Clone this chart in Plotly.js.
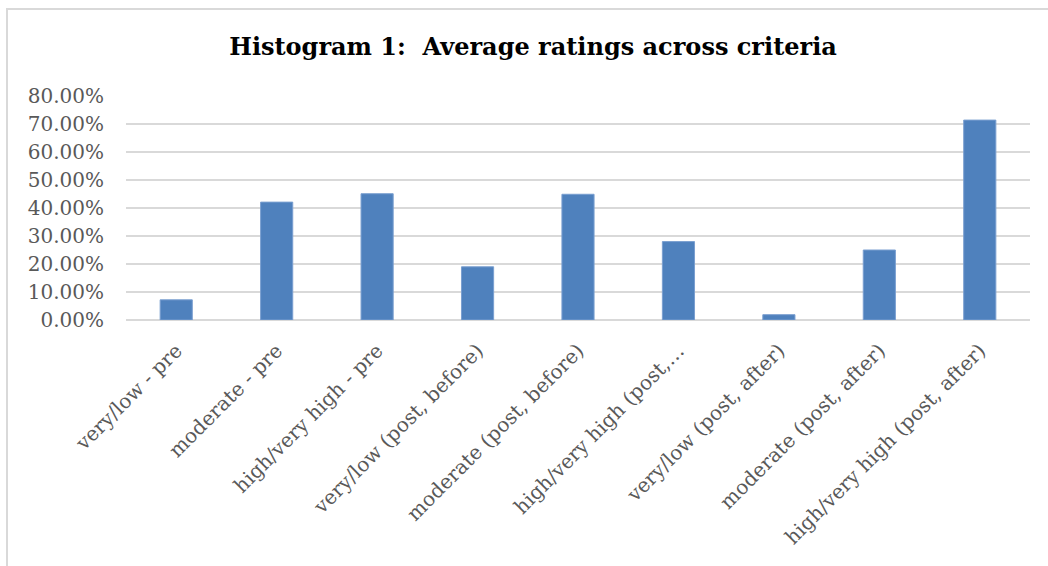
<!DOCTYPE html>
<html>
<head>
<meta charset="utf-8">
<script src="https://cdn.plot.ly/plotly-3.0.1.min.js"></script>
<style>
html, body { margin: 0; padding: 0; background: #fff; }
#wrap { position: relative; width: 1048px; height: 566px; }
#chart { width: 1048px; height: 566px; }
#frame { position: absolute; left: 6px; top: 8px; width: 1042px; height: 558px; border-left: 2px solid #D9D9D9; border-top: 2px solid #D9D9D9; box-sizing: border-box; pointer-events: none; }
</style>
</head>
<body>
<div id="wrap">
<div id="chart"></div>
<div id="frame"></div>
</div>
<script>
const categories = [
  "very/low - pre",
  "moderate - pre",
  "high/very high - pre",
  "very/low (post, before)",
  "moderate (post, before)",
  "high/very high (post,…",
  "very/low (post, after)",
  "moderate (post, after)",
  "high/very high (post, after)"
];
const values = [0.072, 0.421, 0.451, 0.190, 0.449, 0.280, 0.019, 0.250, 0.714];
const yTicks = [0, 0.1, 0.2, 0.3, 0.4, 0.5, 0.6, 0.7, 0.8];

const trace = {
  type: 'bar',
  x: categories,
  y: values,
  width: 0.32,
  marker: { color: '#4F81BD', line: { color: '#7A9FD0', width: 1 } },
  hoverinfo: 'x+y'
};

const layout = {
  width: 1048,
  height: 566,
  paper_bgcolor: '#FFFFFF',
  plot_bgcolor: '#FFFFFF',
  margin: { l: 126, r: 18, t: 96, b: 246 },
  showlegend: false,
  title: {
    text: '<b>Histogram 1:  Average ratings across criteria</b>',
    font: { family: 'DejaVu Serif', size: 24, color: '#000000' },
    x: 533 / 1048,
    xanchor: 'center',
    xref: 'container',
    y: 1 - 47 / 566,
    yref: 'container',
    yanchor: 'middle'
  },
  xaxis: {
    type: 'category',
    tickangle: -45,
    tickfont: { family: 'DejaVu Serif', size: 20, color: '#595959' },
    showgrid: false,
    showline: false,
    zeroline: false,
    ticks: '',
    ticklabelstandoff: 14,
    automargin: false
  },
  yaxis: {
    range: [0, 0.8],
    tickvals: yTicks,
    tickformat: '.2%',
    tickfont: { family: 'DejaVu Serif', size: 20, color: '#595959' },
    showgrid: true,
    gridcolor: '#D9D9D9',
    gridwidth: 2,
    zeroline: true,
    zerolinecolor: '#D9D9D9',
    zerolinewidth: 2,
    showline: false,
    ticks: '',
    ticklabelstandoff: 21,
    automargin: false
  },
  bargap: 0.68
};

Plotly.newPlot('chart', [trace], layout, { displayModeBar: false, staticPlot: true });
</script>
</body>
</html>
